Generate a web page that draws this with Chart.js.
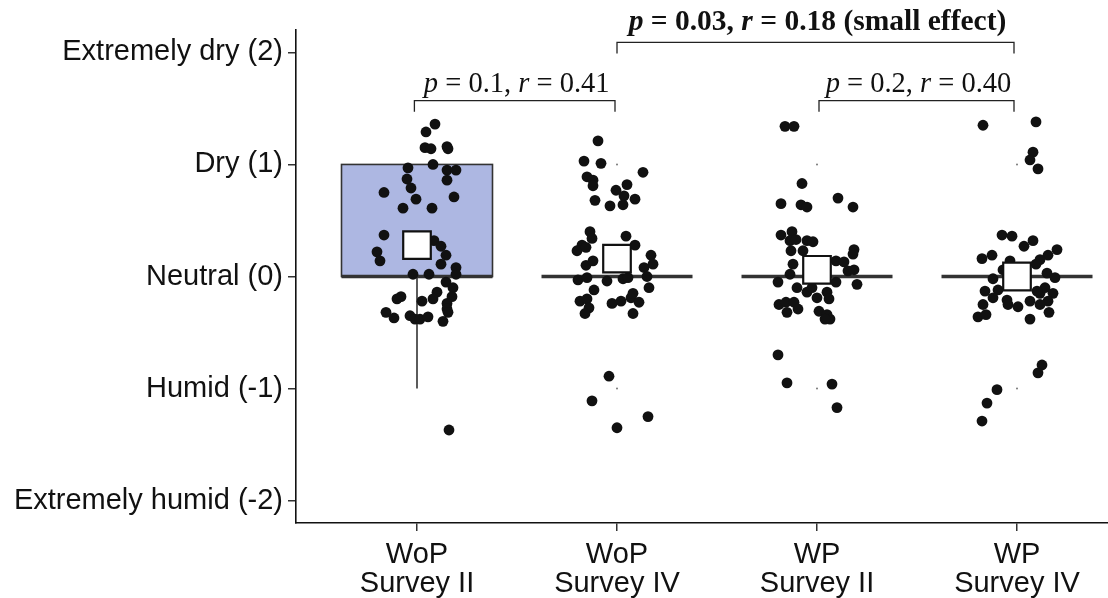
<!DOCTYPE html>
<html>
<head>
<meta charset="utf-8">
<script src="https://cdn.jsdelivr.net/npm/chart.js@4"></script>
<style>
  html, body { margin: 0; padding: 0; background: #fff; overflow: hidden; }
  #boxChart { display: block; }
</style>
</head>
<body>
<canvas id="boxChart" width="1108" height="598"></canvas>
<script>
// categories and axis labels
const categories = [['WoP', 'Survey II'], ['WoP', 'Survey IV'], ['WP', 'Survey II'], ['WP', 'Survey IV']];
const yTickValues = [-2, -1, 0, 1, 2];
const yTickLabels = ['Extremely humid (-2)', 'Humid (-1)', 'Neutral (0)', 'Dry (1)', 'Extremely dry (2)'];

// box plot summaries
const boxQ1 = [0, 0, 0, 0];
const boxMedian = [0, 0, 0, 0];
const boxQ3 = [1, 0, 0, 0];
const whiskerLow = [-1, 0, 0, 0];
const whiskerHigh = [1, 0, 0, 0];
const outliers = [[], [1, -1], [1, -1], [1, -1]];
const means = [0.28, 0.16, 0.06, 0.0];

// jittered responses (value, horizontal jitter in category units)
const woP2Values = [1.36, 1.29, 1.15, 1.14, 1.16, 1.14, 1.00, 0.97, 0.95, 0.95, 0.87, 0.86, 0.79, 0.75, 0.71, 0.69, 0.61, 0.61, 0.37, 0.32, 0.27, 0.22, 0.19, 0.14, 0.11, 0.08, 0.02, 0.02, 0.02, -0.05, -0.10, -0.14, -0.18, -0.20, -0.18, -0.20, -0.22, -0.24, -0.29, -0.32, -0.37, -0.35, -0.38, -0.38, -0.36, -0.40, -0.32, -1.37];
const woP2Jitter = [0.09, 0.045, 0.04, 0.07, 0.15, 0.155, 0.08, -0.045, 0.15, 0.195, -0.05, 0.15, -0.03, -0.165, 0.185, -0.005, -0.07, 0.075, -0.165, 0.085, 0.12, -0.2, 0.145, -0.185, 0.12, 0.195, 0.195, -0.02, 0.06, 0.145, 0.18, 0.1, -0.08, -0.1, 0.175, 0.08, 0.025, 0.15, 0.15, -0.155, -0.115, -0.035, -0.01, 0.015, 0.055, 0.13, 0.155, 0.16];

const woP4Values = [1.21, 1.03, 1.01, 0.93, 0.89, 0.86, 0.81, 0.82, 0.77, 0.72, 0.68, 0.63, 0.64, 0.69, 0.40, 0.34, 0.28, 0.23, 0.26, 0.36, 0.28, 0.19, 0.11, 0.08, 0.10, 0.14, -0.03, -0.01, -0.04, -0.02, -0.01, 0.00, -0.10, -0.12, -0.22, -0.20, -0.28, -0.33, -0.24, -0.22, -0.19, -0.15, -0.23, -0.33, -0.89, -1.11, -1.25, -1.35];
const woP4Jitter = [-0.095, -0.165, -0.08, 0.13, -0.15, -0.12, -0.12, 0.05, -0.005, 0.035, -0.11, -0.035, 0.03, 0.09, -0.135, -0.125, -0.175, -0.2, -0.155, 0.045, 0.09, 0.17, 0.18, 0.135, -0.155, -0.12, -0.195, -0.15, -0.05, 0.03, 0.055, 0.15, 0.16, -0.115, -0.185, -0.15, -0.14, -0.16, -0.025, 0.02, 0.07, 0.08, 0.11, 0.08, -0.04, -0.125, 0.155, 0.0];

const wp2Values = [1.34, 1.34, 0.83, 0.65, 0.64, 0.62, 0.70, 0.62, 0.37, 0.40, 0.32, 0.33, 0.32, 0.31, 0.23, 0.23, 0.24, 0.20, 0.11, 0.02, -0.05, 0.14, 0.13, 0.05, 0.06, -0.05, -0.07, -0.10, -0.14, -0.10, -0.14, -0.20, -0.19, -0.25, -0.23, -0.23, -0.32, -0.29, -0.31, -0.34, -0.38, -0.38, -0.70, -0.95, -0.96, -1.17];
const wp2Jitter = [-0.16, -0.115, -0.075, -0.18, -0.08, -0.05, 0.105, 0.18, -0.18, -0.125, -0.135, -0.105, -0.05, -0.02, -0.13, -0.07, 0.185, 0.18, -0.12, -0.135, -0.195, 0.095, 0.135, 0.155, 0.185, 0.095, 0.2, -0.1, -0.05, -0.025, 0.05, 0.06, 0.0, -0.19, -0.155, -0.115, -0.15, -0.095, 0.01, 0.05, 0.065, 0.04, -0.195, -0.15, 0.075, 0.1];

const wp4Values = [1.35, 1.38, 1.11, 1.04, 0.96, 0.37, 0.36, 0.32, 0.27, 0.24, 0.16, 0.19, 0.19, 0.15, 0.11, 0.14, 0.06, 0.03, -0.01, -0.02, -0.13, -0.12, -0.19, -0.25, -0.36, -0.34, -0.21, -0.25, -0.27, -0.22, -0.15, -0.10, -0.15, -0.22, -0.25, -0.32, -0.38, -0.79, -0.86, -1.01, -1.13, -1.29, -0.13, -0.04];
const wp4Jitter = [-0.17, 0.095, 0.08, 0.065, 0.105, -0.075, -0.025, 0.08, 0.035, 0.2, -0.175, -0.125, 0.155, 0.115, 0.095, -0.035, -0.07, 0.15, 0.19, -0.12, -0.16, -0.095, -0.12, -0.17, -0.195, -0.155, -0.05, -0.045, 0.005, 0.065, 0.115, 0.14, 0.18, 0.155, 0.115, 0.16, 0.065, 0.125, 0.105, -0.1, -0.15, -0.175, 0.1, -0.025];

// significance brackets
const bracketStart = [0.987, 2.0, 3.01];
const bracketEnd = [1.99, 3.985, 3.985];
const bracketY = [1.57, 2.09, 1.57];
const bracketLabelY = [1.643, 2.196, 1.643];
const bracketBold = [false, true, false];
const bracketLabels = [
  [['p', true], [' = 0.1, ', false], ['r', true], [' = 0.41', false]],
  [['p', true], [' = 0.03, ', false], ['r', true], [' = 0.18 (small effect)', false]],
  [['p', true], [' = 0.2, ', false], ['r', true], [' = 0.40', false]]
];

const groupValues = [woP2Values, woP4Values, wp2Values, wp4Values];
const groupJitter = [woP2Jitter, woP4Jitter, wp2Jitter, wp4Jitter];

const boxHalf = 0.3775;

const boxPlugin = {
  id: 'boxes',
  beforeDatasetsDraw(chart) {
    const { ctx, scales: { x, y } } = chart;
    ctx.save();
    categories.forEach((c, i) => {
      const xc = i + 1;
      const left = x.getPixelForValue(xc - boxHalf);
      const right = x.getPixelForValue(xc + boxHalf);
      const mid = x.getPixelForValue(xc);
      ctx.strokeStyle = '#333';
      ctx.lineWidth = 1.6;
      ctx.beginPath();
      ctx.moveTo(mid, y.getPixelForValue(boxQ3[i]));
      ctx.lineTo(mid, y.getPixelForValue(whiskerHigh[i]));
      ctx.moveTo(mid, y.getPixelForValue(boxQ1[i]));
      ctx.lineTo(mid, y.getPixelForValue(whiskerLow[i]));
      ctx.stroke();
      const top = y.getPixelForValue(boxQ3[i]);
      const bottom = y.getPixelForValue(boxQ1[i]);
      if (bottom - top > 0.5) {
        ctx.fillStyle = '#adb7e2';
        ctx.fillRect(left, top, right - left, bottom - top);
        ctx.strokeRect(left, top, right - left, bottom - top);
      }
      ctx.lineWidth = 3.5;
      ctx.beginPath();
      const my = y.getPixelForValue(boxMedian[i]);
      ctx.moveTo(left, my);
      ctx.lineTo(right, my);
      ctx.stroke();
    });
    ctx.restore();
  }
};

const bracketPlugin = {
  id: 'brackets',
  afterDraw(chart) {
    const { ctx, scales: { x, y } } = chart;
    ctx.save();
    ctx.strokeStyle = '#222';
    ctx.lineWidth = 1.3;
    ctx.fillStyle = '#111';
    ctx.textBaseline = 'alphabetic';
    bracketStart.forEach((s, i) => {
      const x1 = x.getPixelForValue(s);
      const x2 = x.getPixelForValue(bracketEnd[i]);
      const yy = y.getPixelForValue(bracketY[i]);
      const yDrop = y.getPixelForValue(bracketY[i] - 0.1);
      ctx.beginPath();
      ctx.moveTo(x1, yDrop);
      ctx.lineTo(x1, yy);
      ctx.lineTo(x2, yy);
      ctx.lineTo(x2, yDrop);
      ctx.stroke();

      const weight = bracketBold[i] ? 'bold ' : '';
      const size = bracketBold[i] ? 29.5 : 28.5;
      const parts = bracketLabels[i];
      const fontFor = it => (it ? 'italic ' : '') + weight + size + 'px "Liberation Serif", "Times New Roman", serif';
      let total = 0;
      parts.forEach(p => { ctx.font = fontFor(p[1]); total += ctx.measureText(p[0]).width; });
      let cx = (x1 + x2) / 2 - total / 2 + 2;
      const ty = y.getPixelForValue(bracketLabelY[i]);
      ctx.textAlign = 'left';
      parts.forEach(p => {
        ctx.font = fontFor(p[1]);
        ctx.fillText(p[0], cx, ty);
        cx += ctx.measureText(p[0]).width;
      });
    });
    ctx.restore();
  }
};

const datasets = [];
datasets.push({
  label: 'mean',
  data: means.map((m, i) => ({ x: i + 1, y: m })),
  pointStyle: 'rect',
  pointRadius: 19.5,
  backgroundColor: '#ffffff',
  borderColor: '#111',
  borderWidth: 2.2,
  order: 0
});
groupValues.forEach((vals, g) => {
  datasets.push({
    label: 'group' + g,
    data: vals.map((v, k) => ({ x: g + 1 + groupJitter[g][k], y: v })),
    pointRadius: 5.4,
    backgroundColor: '#111',
    borderColor: '#111',
    borderWidth: 0,
    order: 1
  });
});
datasets.push({
  label: 'outliers',
  data: outliers.flatMap((o, i) => o.map(v => ({ x: i + 1, y: v }))),
  pointRadius: 1,
  backgroundColor: '#777',
  borderWidth: 0,
  order: 2
});

new Chart(document.getElementById('boxChart'), {
  type: 'scatter',
  data: { datasets: datasets },
  options: {
    responsive: false,
    devicePixelRatio: 1,
    animation: false,
    layout: { autoPadding: false, padding: { top: 30, right: 0, bottom: 0, left: 0 } },
    plugins: {
      legend: { display: false },
      tooltip: { enabled: false }
    },
    scales: {
      x: {
        type: 'linear',
        min: 0.395,
        max: 4.455,
        afterBuildTicks: scale => { scale.ticks = categories.map((c, i) => ({ value: i + 1 })); },
        afterFit: scale => {
          scale.height = 75;
          scale.paddingLeft = 0;
          scale.paddingRight = 0;
        },
        ticks: {
          callback: value => categories[value - 1],
          autoSkip: false,
          maxRotation: 0,
          padding: 9,
          color: '#111',
          font: { family: '"Liberation Sans", Arial, sans-serif', size: 29, lineHeight: 1.02 }
        },
        grid: { drawOnChartArea: false, drawTicks: true, tickLength: 8, color: '#333', lineWidth: 1.5 },
        border: { display: true, color: '#111', width: 1.6 }
      },
      y: {
        min: -2.2,
        max: 2.2,
        afterBuildTicks: scale => { scale.ticks = yTickValues.map(v => ({ value: v })); },
        afterFit: scale => {
          scale.width = 296;
          scale.paddingTop = 0;
          scale.paddingBottom = 0;
        },
        ticks: {
          callback: value => yTickLabels[yTickValues.indexOf(value)],
          padding: 5,
          color: '#111',
          font: { family: '"Liberation Sans", Arial, sans-serif', size: 29 }
        },
        grid: { drawOnChartArea: false, drawTicks: true, tickLength: 8, color: '#333', lineWidth: 1.5 },
        border: { display: true, color: '#111', width: 1.6 }
      }
    }
  },
  plugins: [boxPlugin, bracketPlugin]
});
</script>
</body>
</html>
